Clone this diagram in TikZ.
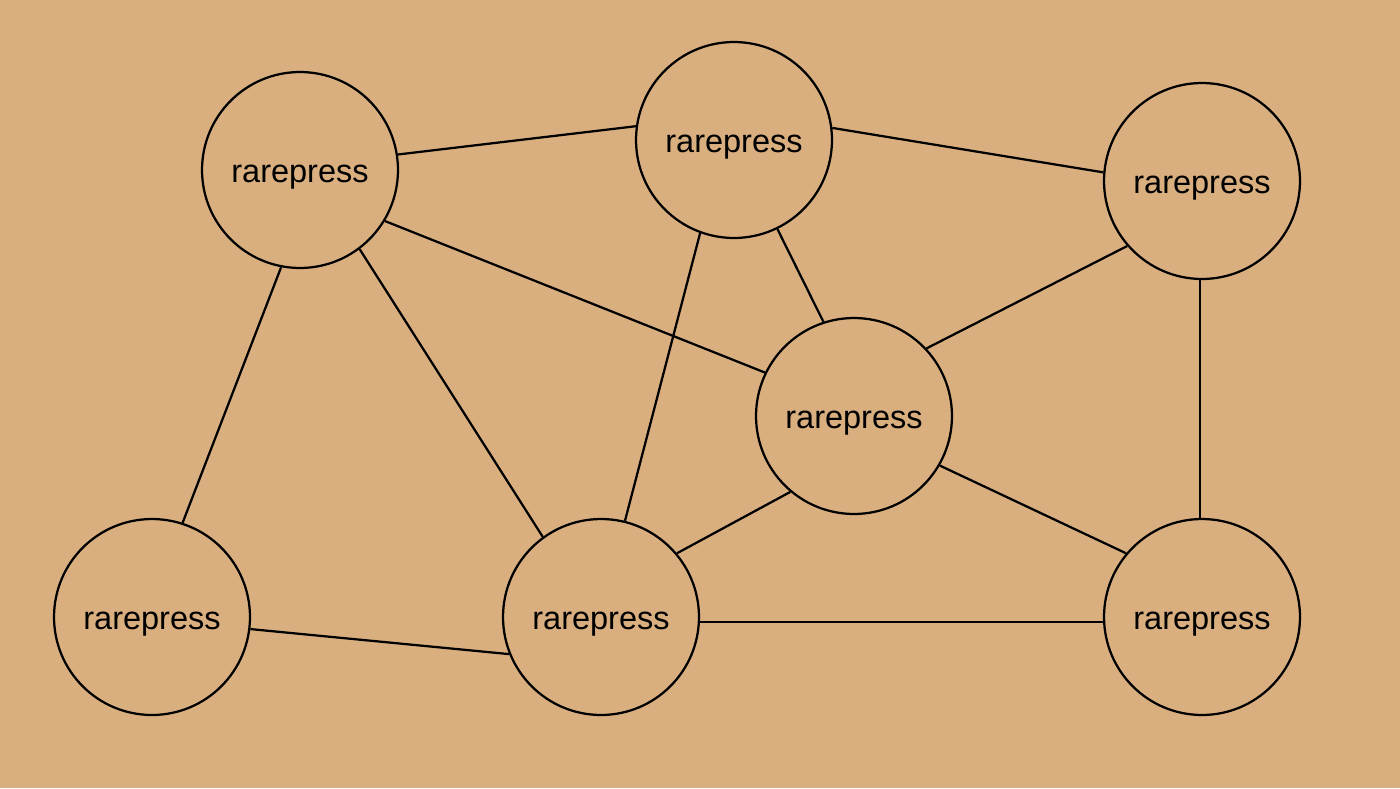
\documentclass[tikz,border=0pt]{standalone}
\usepackage{fontspec}
\setmainfont{Liberation Sans}
\usepackage{tikz}
\definecolor{paper}{RGB}{217,175,128}

\begin{document}
\begin{tikzpicture}[x=0.02cm,y=-0.02cm,
  peer/.style={draw,circle,line width=0.045cm,inner sep=0pt,minimum size=3.92cm,text height=14pt,text depth=0pt,font=\fontsize{18.5}{22}\selectfont},
  link/.style={line width=0.045cm}]
\fill[paper] (0,0) rectangle (1400,788);
\useasboundingbox (0,0) rectangle (1400,788);

\node[peer] (a) at (300,170) {rarepress};
\node[peer] (b) at (734,140) {rarepress};
\node[peer] (c) at (1202,181) {rarepress};
\node[peer] (d) at (854,416) {rarepress};
\node[peer] (e) at (152,617) {rarepress};
\node[peer] (f) at (601,617) {rarepress};
\node[peer] (g) at (1202,617) {rarepress};

\draw[link] (a.9)--(b.172);
\draw[link] (b.7)--(c.175);
\draw[link] (a.-31)--(d.154);
\draw[link] (a.-53)--(f.126);
\draw[link] (a.259)--(e.72);
\draw[link] (b.250)--(f.76);
\draw[link] (b.-64)--(d.108);
\draw[link] (c.221)--(d.43);
\draw[link] (c.-91)--(g.91);
\draw[link] (d.-30)--(g.140);
\draw[link] (d.230)--(f.40);
\draw[link] (e.-7.5)--(f.202);
\draw[link] (f.-3)--(g.183);
\end{tikzpicture}
\end{document}
